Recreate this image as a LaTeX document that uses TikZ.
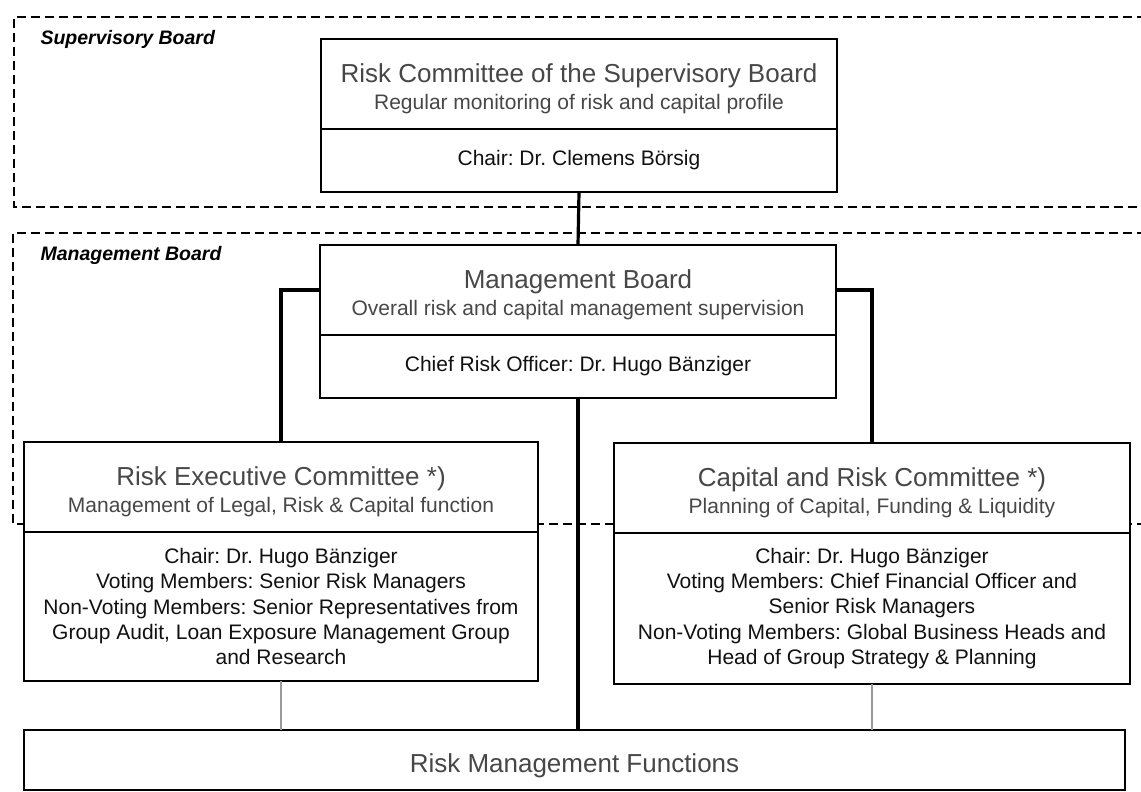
\documentclass[tikz,border=0pt]{standalone}
\usepackage{fontspec}
\setmainfont{Liberation Sans}
\frenchspacing
\usetikzlibrary{positioning}
\definecolor{Ink}{HTML}{111111}
\definecolor{Faded}{HTML}{474747}
\definecolor{Hatch}{HTML}{9A9A9A}
\tikzset{
    board/.style={draw=black, line width=1.8pt, dash pattern=on 9pt off 5pt},
    boardlabel/.style={anchor=base west, font=\fontsize{19.5}{23}\selectfont\bfseries\itshape, text=black},
    box/.style={rectangle, draw=black, line width=2.1pt, fill=white, inner sep=0pt, outer sep=0pt},
    headtext/.style={anchor=base, font=\fontsize{26}{30}\selectfont, text=Faded},
    subtext/.style={anchor=base, font=\fontsize{21}{25}\selectfont, text=Faded},
    bodytext/.style={align=center, font=\fontsize{21}{25.3}\selectfont, text=Ink},
    link/.style={line width=3.2pt, color=black},
    softlink/.style={line width=2.2pt, color=Hatch},
}

\begin{document}
\begin{tikzpicture}[x=1pt, y=-1pt]
    \useasboundingbox (0,0) rectangle (1141,792);

    % Board areas (open to the right)
    \draw[board] (1160,17) -| (14,207) -- (1160,207);
    \draw[board] (1160,233) -| (13,524) -- (1160,524);
    \node[boardlabel] (sup-label) at (37,45) {Supervisory Board};
    \node[boardlabel] (mgmt-label) at (37,260) {Management Board};

    % Risk Committee of the Supervisory Board
    \node[box, minimum width=516pt, minimum height=90pt, anchor=north] (rc) at (579,39) {};
    \node[box, bodytext, minimum width=516pt, minimum height=63pt, below=0pt of rc] (rcb) {Chair: Dr. Clemens Börsig};
    \node[headtext] (rc-title) at ([yshift=-43.5pt]rc.north) {Risk Committee of the Supervisory Board};
    \node[subtext] (rc-sub) at ([yshift=-70.5pt]rc.north) {Regular monitoring of risk and capital profile};

    % Management Board
    \node[box, minimum width=516pt, minimum height=90pt, anchor=north] (mb) at (578,245) {};
    \node[box, bodytext, minimum width=516pt, minimum height=63pt, below=0pt of mb] (mbb) {Chief Risk Officer: Dr. Hugo Bänziger};
    \node[headtext] (mb-title) at ([yshift=-43.5pt]mb.north) {Management Board};
    \node[subtext] (mb-sub) at ([yshift=-70.5pt]mb.north) {Overall risk and capital management supervision};

    % Risk Executive Committee
    \node[box, minimum width=514pt, minimum height=90pt, anchor=north] (re) at (281,442) {};
    \node[box, bodytext, minimum width=514pt, minimum height=149pt, below=0pt of re] (reb) {Chair: Dr. Hugo Bänziger\\Voting Members: Senior Risk Managers\\Non-Voting Members: Senior Representatives from\\Group Audit, Loan Exposure Management Group\\and Research};
    \node[headtext] (re-title) at ([yshift=-43.5pt]re.north) {Risk Executive Committee *)};
    \node[subtext] (re-sub) at ([yshift=-70.5pt]re.north) {Management of Legal, Risk \& Capital function};

    % Capital and Risk Committee
    \node[box, minimum width=516pt, minimum height=90pt, anchor=north] (cr) at (872,443) {};
    \node[box, bodytext, minimum width=516pt, minimum height=151pt, below=0pt of cr] (crb) {Chair: Dr. Hugo Bänziger\\Voting Members: Chief Financial Officer and\\Senior Risk Managers\\Non-Voting Members: Global Business Heads and\\Head of Group Strategy \& Planning};
    \node[headtext] (cr-title) at ([yshift=-43.5pt]cr.north) {Capital and Risk Committee *)};
    \node[subtext] (cr-sub) at ([yshift=-70.5pt]cr.north) {Planning of Capital, Funding \& Liquidity};

    % Risk Management Functions
    \node[box, minimum width=1101pt, minimum height=60pt, anchor=north, font=\fontsize{26}{30}\selectfont, text=Faded, text height=25pt, text depth=0pt] (rmf) at (574.5,730) {Risk Management Functions};

    % Reporting lines
    \draw[link] (rcb.south) -- (mb.north);
    \draw[link] (mb.west) -| (re.north);
    \draw[link] (mb.east) -| (cr.north);
    \draw[link] (mbb.south) -- (mbb.south |- rmf.north);
    \draw[softlink] (reb.south) -- (reb.south |- rmf.north);
    \draw[softlink] (crb.south) -- (crb.south |- rmf.north);
\end{tikzpicture}
\end{document}
